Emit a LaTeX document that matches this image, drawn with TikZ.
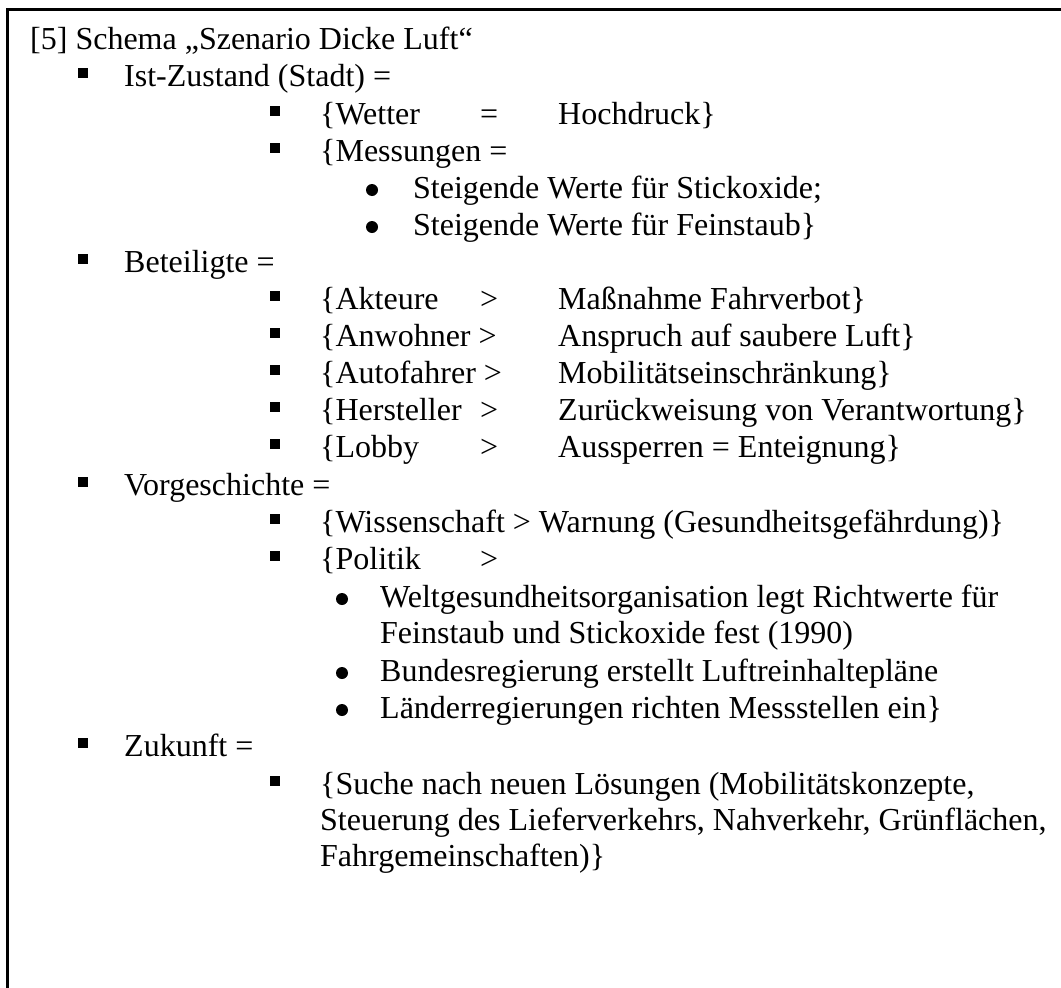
\documentclass[tikz,border=0pt]{standalone}
\usepackage{fontspec}
\setmainfont{Liberation Serif}
\usetikzlibrary{positioning}
\tikzset{
  txt/.style={anchor=base west, inner sep=0pt, font=\fontsize{32}{36}\selectfont},
  sqbul/.style={fill=black},
  rdbul/.style={fill=black, circle, inner sep=0pt, minimum size=12pt},
}

\begin{document}
\begin{tikzpicture}[x=1pt, y=-1pt]
  \useasboundingbox (0,0) rectangle (1061,988);

  % frame, open at the bottom and right
  \draw [line width=2.5pt] (7.5,988) -- (7.5,9.5) -- (1061,9.5);

  \node [txt] (title) at (30,49) {[5] Schema „Szenario Dicke Luft“};

  % first level
  \foreach \y/\nm/\t in {86/ist/Ist-Zustand (Stadt) =, 272/bet/Beteiligte =,
                         495/vor/Vorgeschichte =, 756/zuk/Zukunft =} {
    \fill [sqbul] (78,{\y-18}) rectangle ++(10,10);
    \node [txt] (\nm) at (124,\y) {\t};
  }

  % second level
  \foreach \y in {124,161,309,346,383,420,457,532,569,794} {
    \fill [sqbul] (270,{\y-18}) rectangle ++(10,10);
  }
  \node [txt] (wetter) at (320,124) {\{Wetter};
  \node [txt] (wetterop) at (480,124) {=};
  \node [txt] (wetterval) at (558,124) {Hochdruck\}};
  \node [txt] (mess) at (320,161) {\{Messungen =};

  \node [txt] (akt) at (320,309) {\{Akteure};
  \node [txt] (aktop) at (480,309) {>};
  \node [txt] (aktval) at (558,309) {Maßnahme Fahrverbot\}};
  \node [txt] (anw) at (320,346) {\{Anwohner >};
  \node [txt] (anwval) at (558,346) {Anspruch auf saubere Luft\}};
  \node [txt] (auto) at (320,383) {\{Autofahrer >};
  \node [txt] (autoval) at (558,383) {Mobilitätseinschränkung\}};
  \node [txt] (herst) at (320,420) {\{Hersteller};
  \node [txt] (herstop) at (480,420) {>};
  \node [txt] (herstval) at (558,420) {Zurückweisung von Verantwortung\}};
  \node [txt] (lobby) at (320,457) {\{Lobby};
  \node [txt] (lobbyop) at (480,457) {>};
  \node [txt] (lobbyval) at (558,457) {Aussperren = Enteignung\}};

  \node [txt] (wiss) at (320,532) {\{Wissenschaft > Warnung (Gesundheitsgefährdung)\}};
  \node [txt] (pol) at (320,569) {\{Politik};
  \node [txt] (polop) at (480,569) {>};

  \node [txt] (such) at (320,794) {\{Suche nach neuen Lösungen (Mobilitätskonzepte,};
  \node [txt] (such2) at (320,830) {Steuerung des Lieferverkehrs, Nahverkehr, Grünflächen,};
  \node [txt] (such3) at (320,866) {Fahrgemeinschaften)\}};

  % third level
  \foreach \y/\nm/\t in {198/st1/Steigende Werte für Stickoxide;,
                         235/st2/Steigende Werte für Feinstaub\}} {
    \node [rdbul] at (372,{\y-8}) {};
    \node [txt] (\nm) at (413,\y) {\t};
  }
  \foreach \y/\nm/\t in {607/who/Weltgesundheitsorganisation legt Richtwerte für,
                         681/bund/Bundesregierung erstellt Luftreinhaltepläne,
                         718/land/Länderregierungen richten Messstellen ein\}} {
    \node [rdbul] at (342,{\y-8}) {};
    \node [txt] (\nm) at (380,\y) {\t};
  }
  \node [txt] (who2) at (380,643) {Feinstaub und Stickoxide fest (1990)};

\end{tikzpicture}
\end{document}
